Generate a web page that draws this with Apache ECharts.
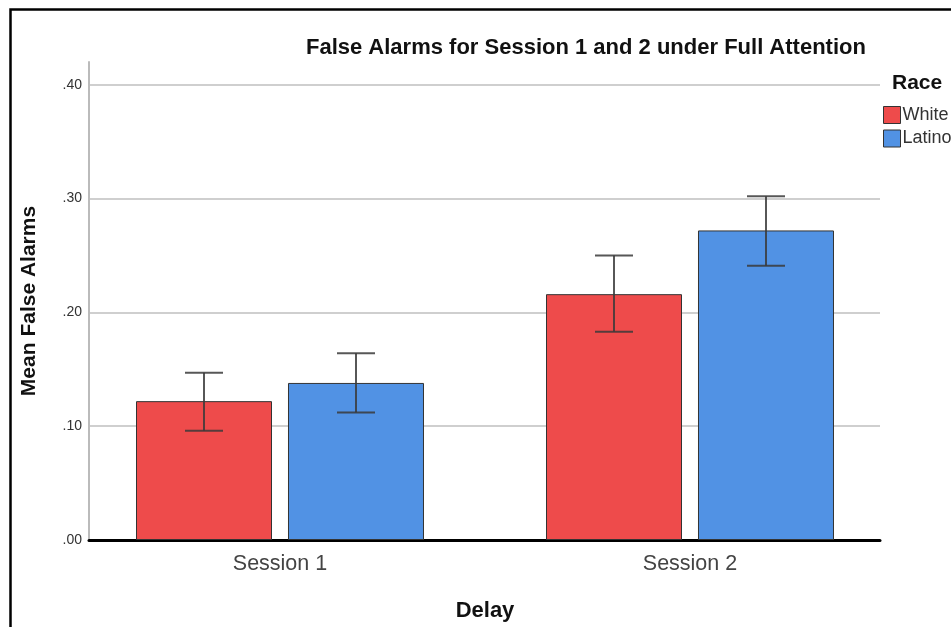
<!DOCTYPE html>
<html>
<head>
<meta charset="utf-8">
<script src="https://cdn.jsdelivr.net/npm/echarts@6/dist/echarts.min.js"></script>
<style>
  html, body { margin: 0; padding: 0; background: #fff; }
  #chart { width: 951px; height: 627px; }
</style>
</head>
<body>
<div id="chart"></div>
<script>
// Session categories and group names
const categories = ['Session 1', 'Session 2'];
const groups = ['White', 'Latino'];

// Mean false alarms per group
const whiteMeans = [0.122, 0.216];
const latinoMeans = [0.138, 0.272];

// Error bar bounds (lower, upper)
const whiteLow = [0.096, 0.183];
const whiteHigh = [0.147, 0.250];
const latinoLow = [0.112, 0.241];
const latinoHigh = [0.164, 0.302];

// Y axis ticks
const yTicks = [0, 0.1, 0.2, 0.3, 0.4];

const FONT = 'Arial, "Liberation Sans", sans-serif';
const RED = '#EE4B4B';
const BLUE = '#5192E4';
const BAR_W = 136;
const GAP = 16;

const chart = echarts.init(document.getElementById('chart'));

function errorSeries(name, low, high, sign) {
  return {
    type: 'custom',
    name: name + ' err',
    xAxisIndex: 1,
    yAxisIndex: 1,
    z: 5,
    silent: true,
    data: categories.map((c, i) => [i, low[i], high[i]]),
    renderItem: function (params, api) {
      const i = api.value(0);
      const pLow = api.coord([i, api.value(1)]);
      const pHigh = api.coord([i, api.value(2)]);
      const x = pLow[0] + sign * (BAR_W + GAP) / 2;
      const cap = 19;
      const style = { stroke: '#3a3a3a', lineWidth: 2, opacity: 0.85 };
      return {
        type: 'group',
        children: [
          { type: 'line', shape: { x1: x, y1: pLow[1], x2: x, y2: pHigh[1] }, style },
          { type: 'line', shape: { x1: x - cap, y1: pLow[1], x2: x + cap, y2: pLow[1] }, style },
          { type: 'line', shape: { x1: x - cap, y1: pHigh[1], x2: x + cap, y2: pHigh[1] }, style }
        ]
      };
    }
  };
}

const option = {
  animation: false,
  backgroundColor: '#fff',
  title: [
    {
      text: 'False Alarms for Session 1 and 2 under Full Attention',
      left: 301, top: 32,
      textStyle: { fontFamily: FONT, fontSize: 22, fontWeight: 'bold', color: '#111' }
    },
    {
      text: 'Race',
      left: 887, top: 68,
      textStyle: { fontFamily: FONT, fontSize: 21, fontWeight: 'bold', color: '#111' }
    }
  ],
  legend: {
    orient: 'vertical',
    left: 878, top: 101,
    itemWidth: 17, itemHeight: 17, itemGap: 5.5,
    icon: 'rect',
    data: groups,
    textStyle: { fontFamily: FONT, fontSize: 18, color: '#333', padding: [0, 0, 0, -3] },
    itemStyle: { borderColor: '#333', borderWidth: 1 }
  },
  grid: [
    { left: 89, right: 71, top: 62, bottom: 87 },
    { left: 75, right: 56, top: 62, bottom: 87 }
  ],
  xAxis: [
    {
      type: 'value', gridIndex: 0, min: 0, max: 1,
      axisLine: { show: true, onZero: false, lineStyle: { color: '#000', width: 3 } },
      axisTick: { show: false }, axisLabel: { show: false }, splitLine: { show: false }
    },
    {
      type: 'category', gridIndex: 1, data: categories,
      axisLine: { show: false }, axisTick: { show: false },
      axisLabel: { fontFamily: FONT, fontSize: 21.5, color: '#444', margin: 13 },
      name: 'Delay', nameLocation: 'middle', nameGap: 60,
      nameTextStyle: { fontFamily: FONT, fontSize: 22, fontWeight: 'bold', color: '#111' }
    }
  ],
  yAxis: [
    {
      type: 'value', gridIndex: 0, min: 0, max: 0.42, interval: 0.1,
      axisLine: { show: true, lineStyle: { color: '#bbb', width: 2 } },
      axisTick: { show: false },
      axisLabel: {
        fontFamily: FONT, fontSize: 14, color: '#333', margin: 7,
        showMaxLabel: false,
        formatter: v => yTicks.some(t => Math.abs(t - v) < 1e-9) ? v.toFixed(2).replace(/^0/, '') : ''
      },
      splitLine: { show: true, showMaxLine: false, lineStyle: { color: '#cfcfcf', width: 2 } },
      name: 'Mean False Alarms', nameLocation: 'middle', nameGap: 49,
      nameTextStyle: { fontFamily: FONT, fontSize: 21, fontWeight: 'bold', color: '#111' }
    },
    {
      type: 'value', gridIndex: 1, min: 0, max: 0.42, interval: 0.1, show: false,
      splitLine: { show: false }
    }
  ],
  series: [
    {
      type: 'bar', name: 'White', xAxisIndex: 1, yAxisIndex: 1,
      data: whiteMeans, barWidth: BAR_W, barGap: (GAP / BAR_W * 100).toFixed(2) + '%',
      itemStyle: { color: RED, borderColor: '#333', borderWidth: 1 }
    },
    {
      type: 'bar', name: 'Latino', xAxisIndex: 1, yAxisIndex: 1,
      data: latinoMeans, barWidth: BAR_W,
      itemStyle: { color: BLUE, borderColor: '#333', borderWidth: 1 }
    },
    errorSeries('White', whiteLow, whiteHigh, -1),
    errorSeries('Latino', latinoLow, latinoHigh, 1)
  ],
  graphic: [
    {
      type: 'rect', left: 8, top: 7, silent: true, z: 100,
      shape: { x: 0, y: 0, width: 1000, height: 700 },
      style: { fill: 'none', stroke: '#000', lineWidth: 2.5 }
    }
  ]
};

chart.setOption(option);
</script>
</body>
</html>
